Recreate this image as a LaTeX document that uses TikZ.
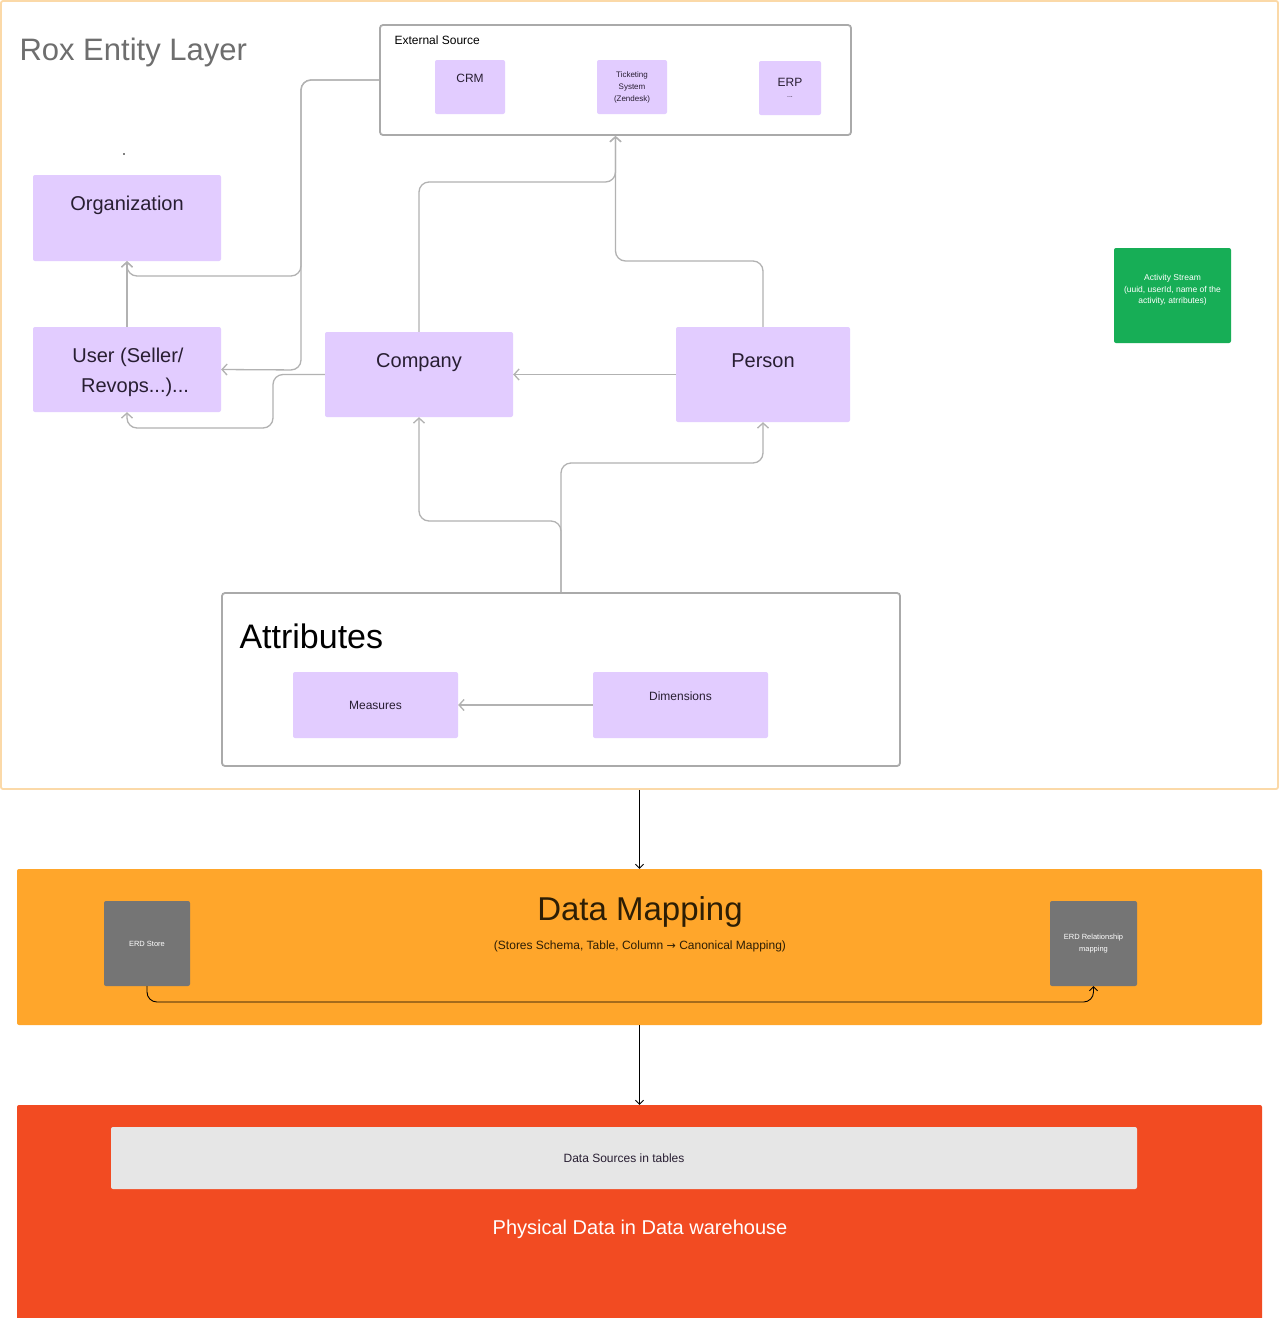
\documentclass[tikz,border=0pt]{standalone}
\usepackage{fontspec}
\setmainfont{Liberation Sans}
\newfontfamily\arrowfont{DejaVu Sans}
\usetikzlibrary{arrows.meta}
\definecolor{lavender}{RGB}{226,204,255}
\definecolor{linkgray}{RGB}{178,178,178}
\definecolor{framegray}{RGB}{170,170,170}
\definecolor{frameorange}{RGB}{251,217,168}
\definecolor{maporange}{RGB}{255,166,43}
\definecolor{whred}{RGB}{242,75,34}
\definecolor{erdgray}{RGB}{117,117,117}
\definecolor{streamgreen}{RGB}{23,174,86}
\definecolor{srcgray}{RGB}{230,230,230}
\definecolor{titlegray}{RGB}{110,110,110}
\definecolor{inkdark}{RGB}{40,30,50}
\definecolor{mapink}{RGB}{45,30,5}
\newcommand{\fsz}[2]{\fontsize{#1}{#2}\selectfont}

\begin{document}
\begin{tikzpicture}[x=1pt, y=-1pt,
    entity/.style={rectangle, fill=lavender, rounded corners=2pt, inner sep=0pt, align=center, text=inkdark},
    band/.style={rectangle, rounded corners=2pt, inner sep=0pt},
    frame/.style={rectangle, draw=framegray, line width=1.8pt, rounded corners=3pt, inner sep=0pt},
    link/.style={-{Straight Barb[length=5pt,width=11pt]}, line width=1.3pt, linkgray, rounded corners=10pt},
    flow/.style={-{Straight Barb[length=4pt,width=8pt]}, line width=0.9pt, black, rounded corners=10pt}]
  \useasboundingbox (0,0) rectangle (1280,1318);

  % entity layer
  \node[band, draw=frameorange, line width=1.8pt, fill=white, minimum width=1277pt, minimum height=788pt] (layer) at (639.5,395) {};
  \node[anchor=base west, text=titlegray, font=\fsz{31}{36}] (layertitle) at (16,60) {Rox Entity Layer};
  \fill (124,154) circle (0.8);

  \node[frame, minimum width=471pt, minimum height=110pt] (ext) at (615.5,80) {};
  \node[anchor=base west, font=\fsz{12}{14}] (exttitle) at (391,44) {External Source};
  \node[entity, minimum width=70pt, minimum height=54pt, font=\fsz{12}{14}, text height=9pt, text depth=18.4pt] (crm) at (470,87) {CRM};
  \node[entity, minimum width=70pt, minimum height=54pt, font=\fsz{8}{12}] (ticket) at (632,87) {Ticketing\\System\\(Zendesk)};
  \node[entity, minimum width=62pt, minimum height=54pt, font=\fsz{12}{14}] (erp) at (790,88) {ERP\\[-3pt]{\fsz{7}{8}...}};

  \node[entity, minimum width=188pt, minimum height=86pt, font=\fsz{20}{30}, text height=15pt, text depth=31pt] (org) at (127,218) {Organization};
  \node[entity, minimum width=188pt, minimum height=85pt] (user) at (127,369.5) {};
  \node[align=center, text=inkdark, font=\fsz{20}{30}] (usertext) at (128,372.5) {User (Seller/\\\hspace*{14pt}Revops...)...};
  \node[entity, minimum width=188pt, minimum height=85pt, font=\fsz{20}{30}, text height=15pt, text depth=30pt] (comp) at (419,374.5) {Company};
  \node[entity, minimum width=174pt, minimum height=95pt, font=\fsz{20}{30}, text height=15pt, text depth=30pt] (pers) at (763,374.5) {Person};

  \node[band, fill=streamgreen, minimum width=117pt, minimum height=95pt] (stream) at (1172.5,295.5) {};
  \node[text=white, align=center, font=\fsz{8.5}{11.5}] (streamtext) at (1172.5,290) {Activity Stream\\(uuid, userId, name of the\\activity, atrributes)};

  \node[frame, minimum width=678pt, minimum height=173pt] (attr) at (561,679.5) {};
  \node[anchor=base west, font=\fsz{34}{40}] (attrtitle) at (236,648) {Attributes};
  \node[entity, minimum width=165pt, minimum height=66pt, font=\fsz{12}{14}] (meas) at (375.5,705) {Measures};
  \node[entity, minimum width=175pt, minimum height=66pt, font=\fsz{12}{14}, text height=9pt, text depth=18.4pt] (dims) at (680.5,705) {Dimensions};

  % entity links
  \draw[link] (ext.west) -- (301,80) -- (301,276) -- (127,276) -- (org.south);
  \draw[link] (ext.west) -- (301,80) -- (301,370) -- (user.east);
  \draw[link] (user.north) -- (org.south);
  \draw[link] (comp.west) -- (273,374.5) -- (273,428) -- (127,428) -- (user.south);
  \draw[link] (comp.north) -- (419,182) -| (ext.south);
  \draw[link] (pers.north) -- (763,261) -| (ext.south);
  \draw[link] (pers.west) -- (comp.east);
  \draw[link] (attr.north) -- (561,521) -| (comp.south);
  \draw[link] (attr.north) -- (561,463) -| (pers.south);
  \draw[link] (dims.west) -- (meas.east);

  % data mapping
  \node[band, fill=maporange, minimum width=1245pt, minimum height=156pt] (map) at (639.5,947) {};
  \node[anchor=base, text=mapink, font=\fsz{33}{38}] (maptitle) at (640,920) {Data Mapping};
  \node[anchor=base, text=mapink, font=\fsz{12}{14}] (mapsub) at (640,949) {(Stores Schema, Table, Column {\arrowfont\fsz{11}{14}→} Canonical Mapping)};
  \node[band, fill=erdgray, text=white, align=center, minimum width=86pt, minimum height=85pt, font=\fsz{7.5}{12}] (erds) at (147,943.5) {ERD Store};
  \node[band, fill=erdgray, text=white, align=center, minimum width=87pt, minimum height=85pt, font=\fsz{7.5}{12}] (erdr) at (1093.5,943.5) {ERD Relationship\\mapping};
  \draw[flow] (erds.south) -- (147,1002) -| (erdr.south);

  % warehouse
  \node[band, fill=whred, minimum width=1245pt, minimum height=217pt] (wh) at (639.5,1213.5) {};
  \node[band, fill=srcgray, minimum width=1026pt, minimum height=62pt, font=\fsz{12}{14}, text=inkdark] (src) at (624,1158) {Data Sources in tables};
  \node[anchor=base, text=white, font=\fsz{20}{24}] (whtitle) at (640,1234) {Physical Data in Data warehouse};

  \draw[flow] (layer.south) -- (map.north);
  \draw[flow] (map.south) -- (wh.north);
\end{tikzpicture}
\end{document}
